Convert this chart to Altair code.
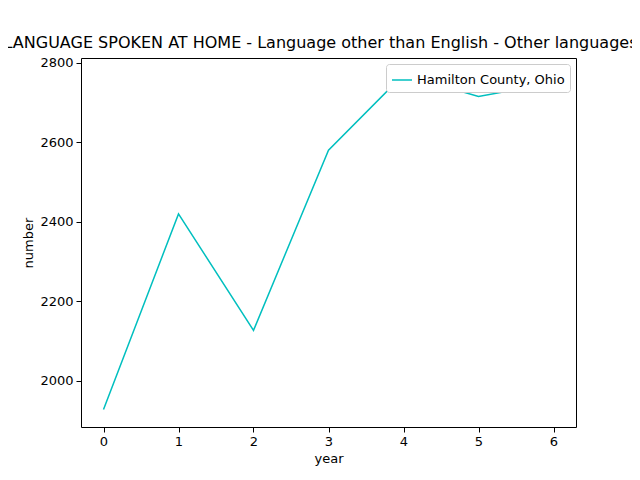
import altair as alt
import pandas as pd

years = [0, 1, 2, 3, 4, 5, 6]
values = [1928, 2420, 2127, 2580, 2770, 2715, 2750]
series = ["Hamilton County, Ohio"] * len(years)

df = pd.DataFrame({"year": years, "number": values, "series": series})

font = "DejaVu Sans"

chart = alt.Chart(df).mark_line(strokeWidth=1.5).encode(
    x=alt.X("year:Q", scale=alt.Scale(domain=[-0.3, 6.3], nice=False, zero=False),
            axis=alt.Axis(values=years, format="d", title="year")),
    y=alt.Y("number:Q", scale=alt.Scale(domain=[1884, 2812], nice=False, zero=False),
            axis=alt.Axis(values=[2000, 2200, 2400, 2600, 2800], format="d", title="number")),
    color=alt.Color("series:N", scale=alt.Scale(range=["#00bfbf"]),
                    legend=alt.Legend(title=None, orient="top-right", symbolType="stroke",
                                      strokeColor="#cccccc", fillColor="white", padding=5,
                                      cornerRadius=3, labelFontSize=13, labelFont=font,
                                      symbolSize=400, offset=6)),
).properties(
    width=495, height=369,
    title=alt.Title("LANGUAGE SPOKEN AT HOME - Language other than English - Other languages",
                    fontSize=16, font=font, fontWeight="normal", dx=-8, offset=6),
    autosize=alt.AutoSizeParams(type="none"),
    padding={"left": 73, "top": 50, "right": 56, "bottom": 45},
).configure_view(stroke="black", strokeWidth=1).configure_axis(
    grid=False, domain=False, tickColor="black", labelColor="black", labelFont=font,
    labelFontSize=13, titleFont=font, titleFontSize=13, titleFontWeight="normal",
    tickSize=5, labelPadding=3,
)

chart.save("out.html", embed_options={"renderer": "svg", "actions": False})
